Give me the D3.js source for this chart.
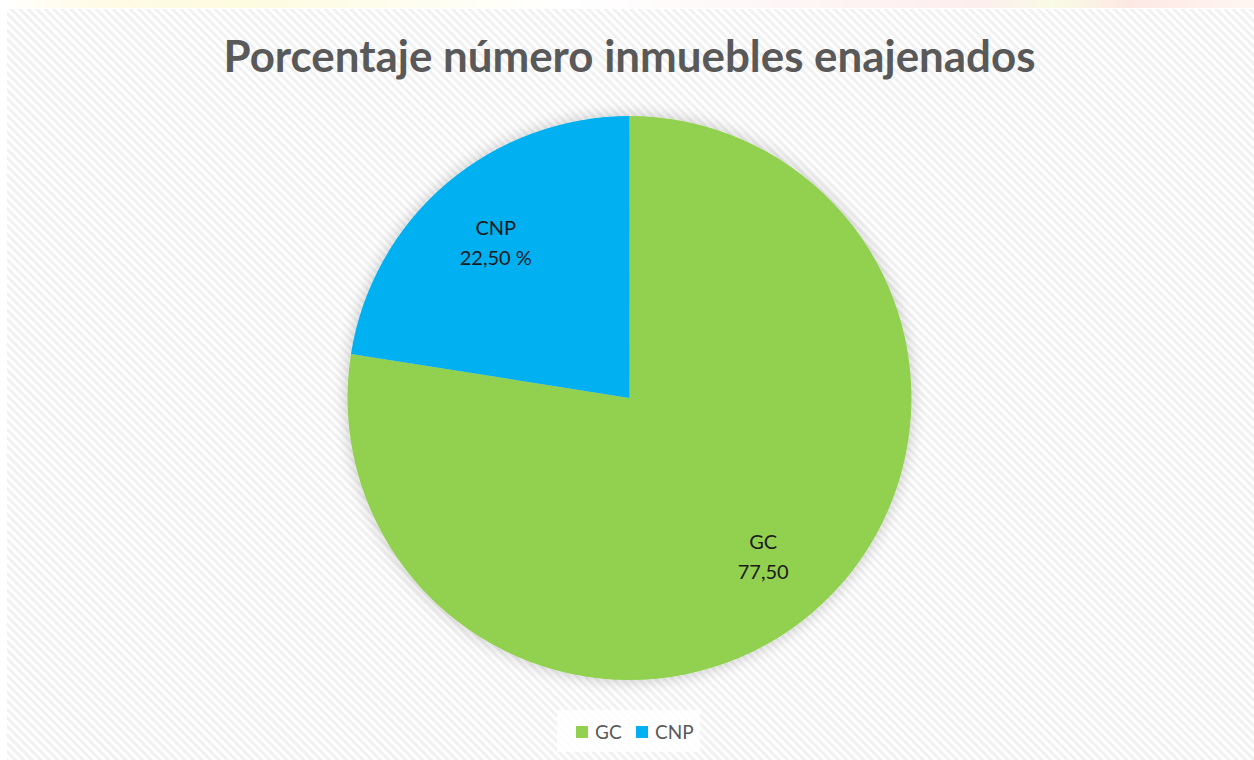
<!DOCTYPE html>
<html>
<head>
<meta charset="utf-8">
<script src="https://cdn.jsdelivr.net/npm/d3@7"></script>
<style>
  body { margin: 0; background: #fff; }
  svg { display: block; }
</style>
</head>
<body>
<script>
// datos
var categorias = ["GC", "CNP"];
var valores = [77.50, 22.50];
var etiquetas = ["77,50", "22,50 %"];
var colores = ["#92D050", "#00B0F0"];
var titulo = "Porcentaje número inmuebles enajenados";

var w = 1254, h = 760;
var cx = 629.5, cy = 398, r = 282;

var svg = d3.select("body").append("svg")
    .attr("width", w)
    .attr("height", h);

var defs = svg.append("defs");

// fondo rayado
var pat = defs.append("pattern")
    .attr("id", "rayas")
    .attr("patternUnits", "userSpaceOnUse")
    .attr("width", 6).attr("height", 6)
    .attr("patternTransform", "rotate(-45)");
pat.append("rect").attr("width", 6).attr("height", 6).attr("fill", "#ffffff");
pat.append("rect").attr("width", 3).attr("height", 6).attr("fill", "#f1f1f1");

// sombra del pastel
var f = defs.append("filter").attr("id", "sombra")
    .attr("x", "-20%").attr("y", "-20%").attr("width", "140%").attr("height", "140%");
f.append("feGaussianBlur").attr("in", "SourceAlpha").attr("stdDeviation", 8).attr("result", "b");
f.append("feComponentTransfer").attr("in", "b").attr("result", "b2")
  .append("feFuncA").attr("type", "linear").attr("slope", 0.22);
var m = f.append("feMerge");
m.append("feMergeNode").attr("in", "b2");
m.append("feMergeNode").attr("in", "SourceGraphic");

// franja de colores arriba
var g1 = defs.append("linearGradient").attr("id", "franja");
[["0%", "#ffffff"], ["8%", "#fffbe6"], ["20%", "#fdfbe0"], ["45%", "#ffffff"],
 ["78%", "#fdeeee"], ["84%", "#f8fbe6"], ["90%", "#fde8e4"], ["100%", "#fff6f2"]]
  .forEach(function (s) { g1.append("stop").attr("offset", s[0]).attr("stop-color", s[1]); });
svg.append("rect").attr("x", 0).attr("y", 0).attr("width", w).attr("height", 8)
    .attr("fill", "url(#franja)");

svg.append("rect")
    .attr("x", 7).attr("y", 9)
    .attr("width", w - 7).attr("height", h - 9)
    .attr("fill", "url(#rayas)");

// titulo
var t = svg.append("text")
    .attr("x", cx).attr("y", 72)
    .attr("text-anchor", "middle")
    .attr("font-family", "Lato, 'Open Sans', sans-serif")
    .attr("font-weight", "bold")
    .attr("font-size", 38)
    .attr("fill", "#595959")
    .text(titulo);
var tl = t.node().getComputedTextLength();
t.attr("font-size", 38 * 812 / tl);

// pastel
var pie = d3.pie().sort(null).value(function (d) { return d; });
var arc = d3.arc().innerRadius(0).outerRadius(r);
var arcos = pie(valores);

var gp = svg.append("g")
    .attr("transform", "translate(" + cx + "," + cy + ")")
    .attr("filter", "url(#sombra)");
gp.selectAll("path").data(arcos).enter().append("path")
    .attr("d", arc)
    .attr("fill", function (d, i) { return colores[i]; });

// etiquetas de datos
var posEtiq = d3.arc().innerRadius(r * 0.73).outerRadius(r * 0.73);
var ge = svg.append("g").attr("transform", "translate(" + cx + "," + cy + ")");
arcos.forEach(function (d, i) {
  var p = posEtiq.centroid(d);
  var tx = ge.append("text")
      .attr("x", p[0]).attr("y", p[1])
      .attr("text-anchor", "middle")
      .attr("font-family", "Lato, 'Open Sans', sans-serif")
      .attr("font-size", 20)
      .attr("fill", "#1a1a1a");
  tx.append("tspan").attr("x", p[0]).attr("dy", "-0.3em").text(categorias[i]);
  tx.append("tspan").attr("x", p[0]).attr("dy", "1.5em").text(etiquetas[i]);
});

// leyenda
var lg = svg.append("g");
lg.append("rect").attr("x", 557).attr("y", 710).attr("width", 143).attr("height", 42)
    .attr("fill", "#ffffff").attr("opacity", 0.85);
var xs = [576, 636];
categorias.forEach(function (c, i) {
  lg.append("rect").attr("x", xs[i]).attr("y", 726).attr("width", 12).attr("height", 12)
      .attr("fill", colores[i]);
  lg.append("text").attr("x", xs[i] + 19).attr("y", 739)
      .attr("font-family", "Lato, 'Open Sans', sans-serif")
      .attr("font-size", 19)
      .attr("fill", "#595959")
      .text(c);
});
</script>
</body>
</html>
